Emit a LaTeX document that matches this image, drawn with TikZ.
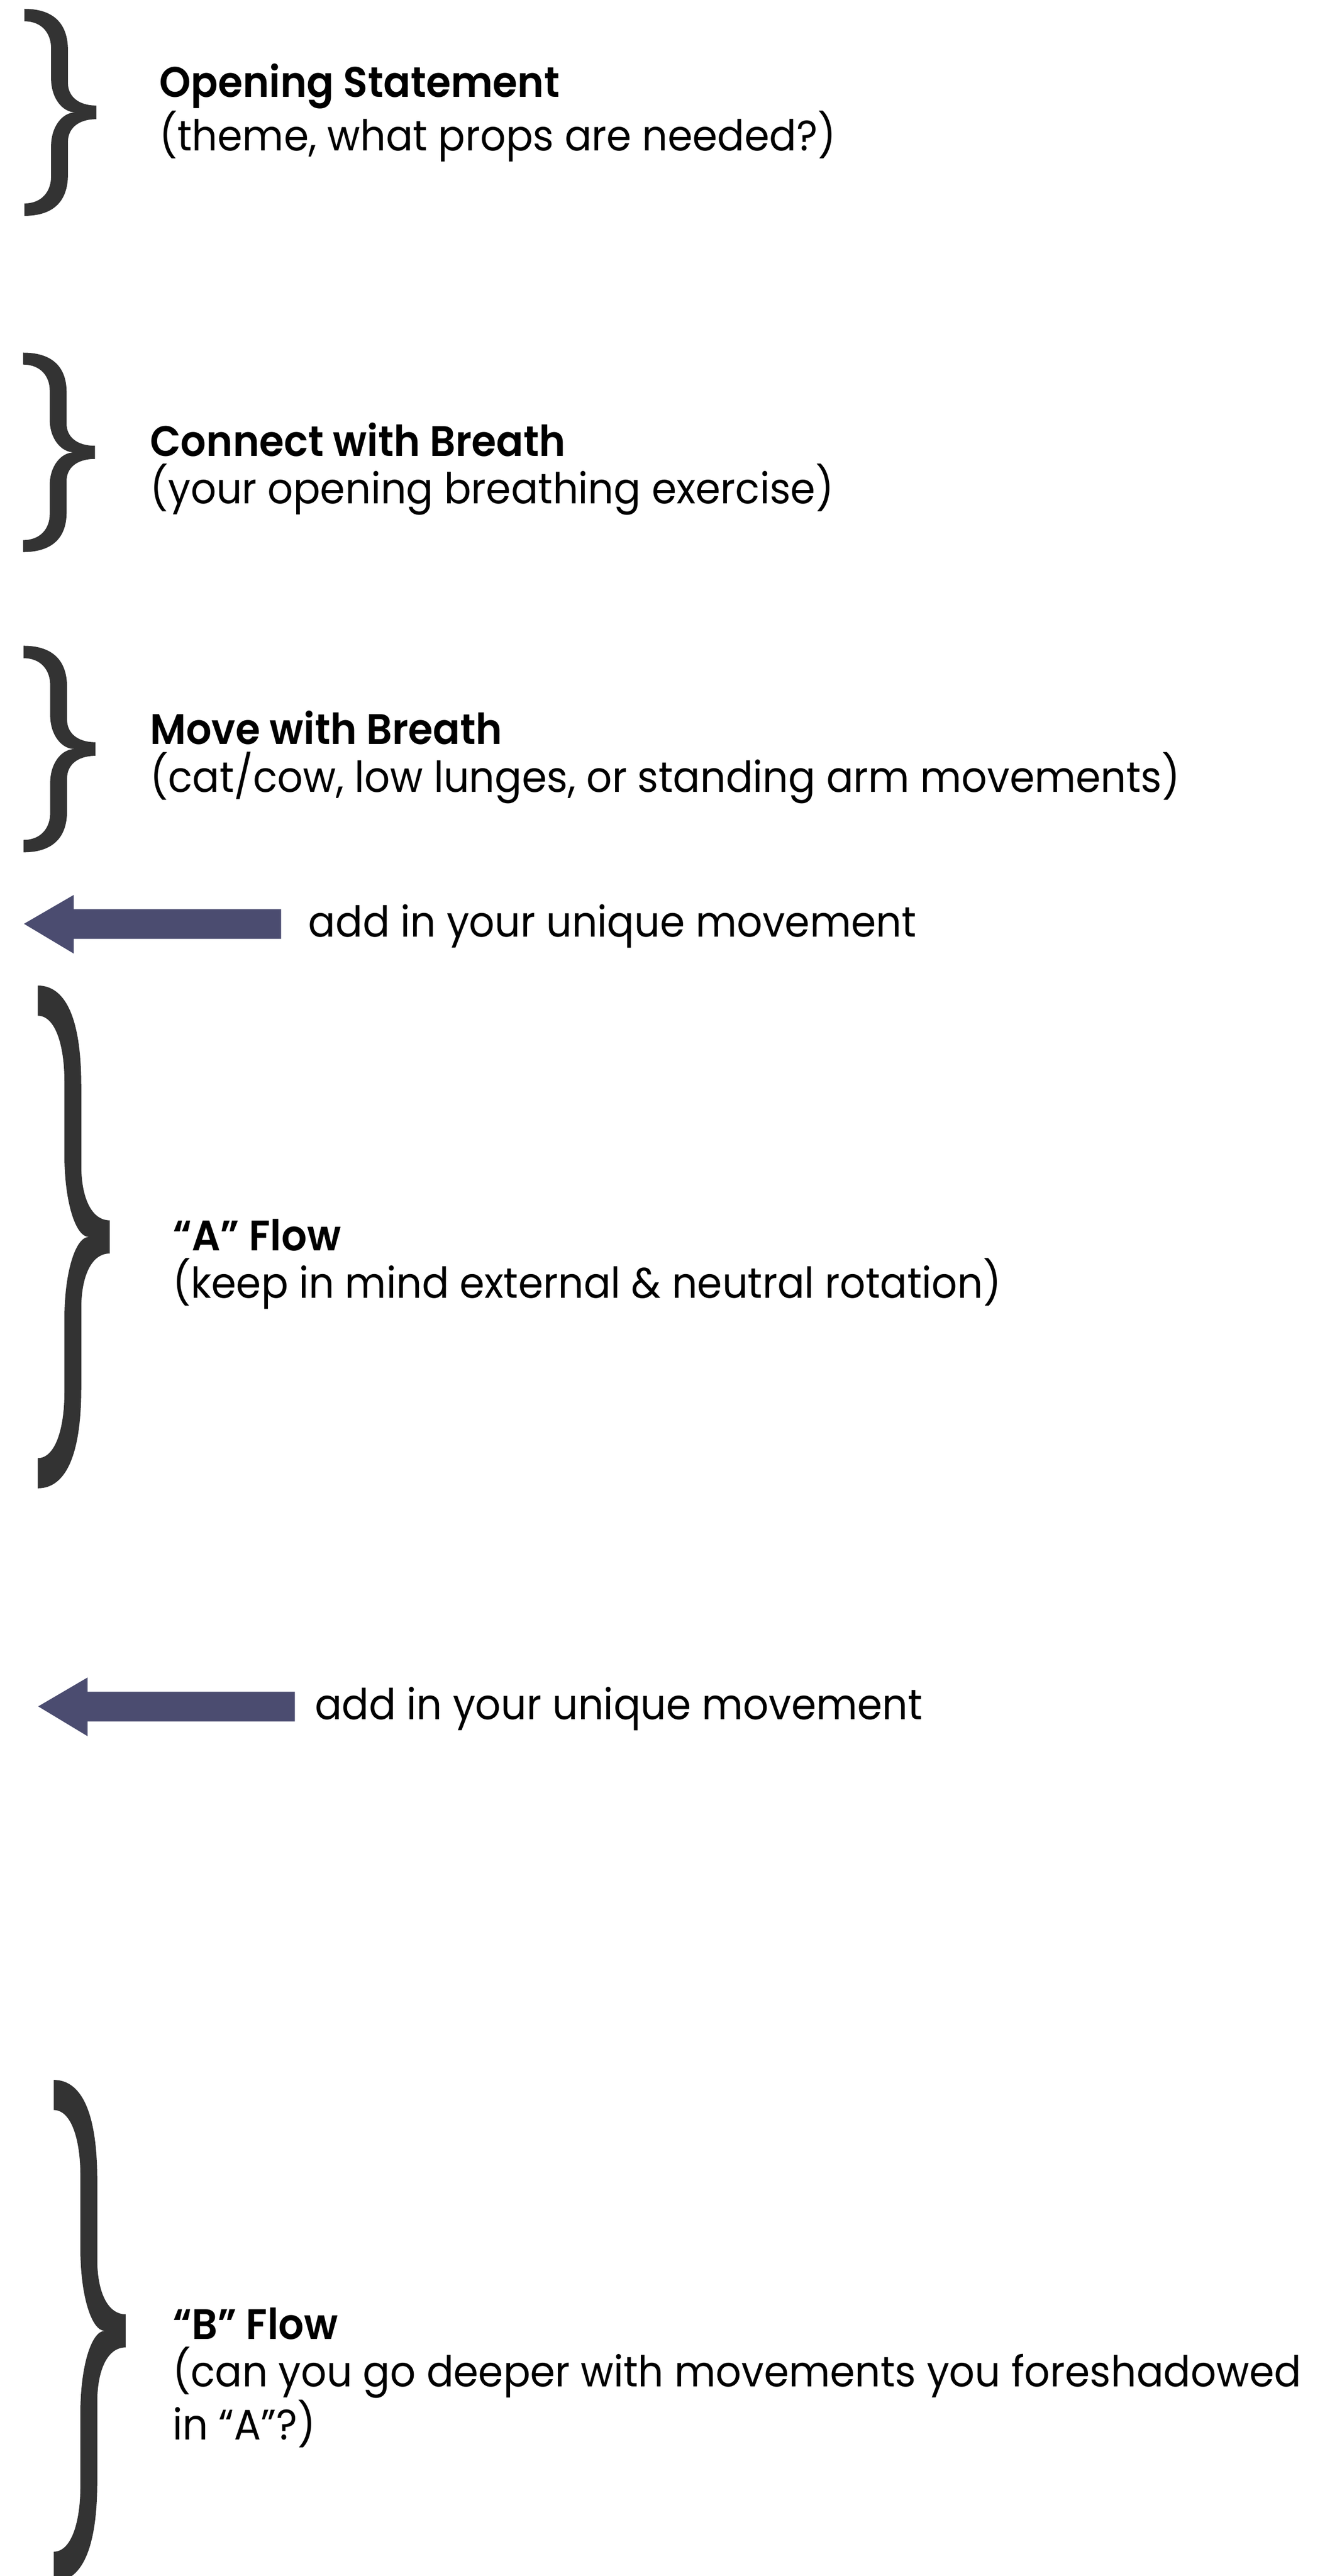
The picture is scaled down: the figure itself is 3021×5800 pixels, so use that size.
\documentclass[tikz,border=0pt]{standalone}
\usepackage{fontspec}
\setmainfont{Poppins}[FakeStretch=0.94, BoldFont={Poppins SemiBold}]

\tikzset{
  flowtext/.style={anchor=base west, inner sep=0pt, align=left, font=\fontsize{24}{26.75}\selectfont},
  bracefill/.style={fill={rgb, 255:red, 51; green, 51; blue, 51}},
  arrowfill/.style={fill={rgb, 255:red, 75; green, 76; blue, 112}},
  flowbrace/.pic={
    \fill[bracefill] (0,0) .. controls (60,0) and (98,0.06) .. (98,0.2)
      -- (98,0.358) .. controls (98,0.42) and (120,0.467) .. (162,0.467)
      -- (162,0.533) .. controls (120,0.533) and (98,0.58) .. (98,0.642)
      -- (98,0.8) .. controls (98,0.94) and (60,1) .. (0,1)
      -- (0,0.94) .. controls (40,0.94) and (60,0.88) .. (60,0.81)
      -- (60,0.664) .. controls (60,0.57) and (85,0.5) .. (115,0.5)
      .. controls (85,0.5) and (60,0.43) .. (60,0.336)
      -- (60,0.19) .. controls (60,0.12) and (40,0.06) .. (0,0.06) -- cycle;
  }
}

\begin{document}
\begin{tikzpicture}[x=0.25pt,y=0.25pt,yscale=-1,xscale=1]
%set diagram left start at 0, and has height of 5800
\path[use as bounding box] (0,0) rectangle (3021,5800);
\clip (0,0) rectangle (3021,5800);

%Shape: Brace [id:opening]
\pic [yscale=-466] at (55,20) {flowbrace};
%Shape: Brace [id:connect]
\pic [yscale=-449] at (52,794) {flowbrace};
%Shape: Brace [id:move]
\pic [yscale=-465] at (53,1454) {flowbrace};
%Shape: Brace [id:aflow]
\pic [yscale=-1132] at (85,2219) {flowbrace};
%Shape: Brace [id:bflow]
\pic [yscale=-1130] at (121,4683) {flowbrace};

%Shape: Left Arrow [id:unique1]
\coordinate (uniquetip1) at (54,2080);
\fill[arrowfill] (uniquetip1) -- ++(112,-65) -- ++(0,32) -- ++(467,0) -- ++(0,67) -- ++(-467,0) -- ++(0,33) -- cycle;
%Shape: Left Arrow [id:unique2]
\coordinate (uniquetip2) at (86,3842);
\fill[arrowfill] (uniquetip2) -- ++(111,-65) -- ++(0,32) -- ++(467,0) -- ++(0,67) -- ++(-467,0) -- ++(0,33) -- cycle;

% Text Node (base = last line)
\node (openingtxt) [flowtext] at (358,339) {\textbf{Opening Statement}\\(theme, what props are needed?)};
% Text Node
\node (connecttxt) [flowtext] at (337,1134) {\textbf{Connect with Breath}\\(your opening breathing exercise)};
% Text Node
\node (movetxt) [flowtext] at (337,1783) {\textbf{Move with Breath}\\(cat/cow, low lunges, or standing arm movements)};
% Text Node
\node (uniquetxt1) [flowtext] at (694,2110) {add in your unique movement};
% Text Node
\node (aflowtxt) [flowtext] at (388,2923) {\textbf{“A” Flow}\\(keep in mind external \& neutral rotation)};
% Text Node
\node (uniquetxt2) [flowtext] at (708,3871) {add in your unique movement};
% Text Node
\node (bflowtxt) [flowtext] at (388,5493) {\textbf{“B” Flow}\\(can you go deeper with movements you foreshadowed\\in “A”?)};

\end{tikzpicture}
\end{document}
